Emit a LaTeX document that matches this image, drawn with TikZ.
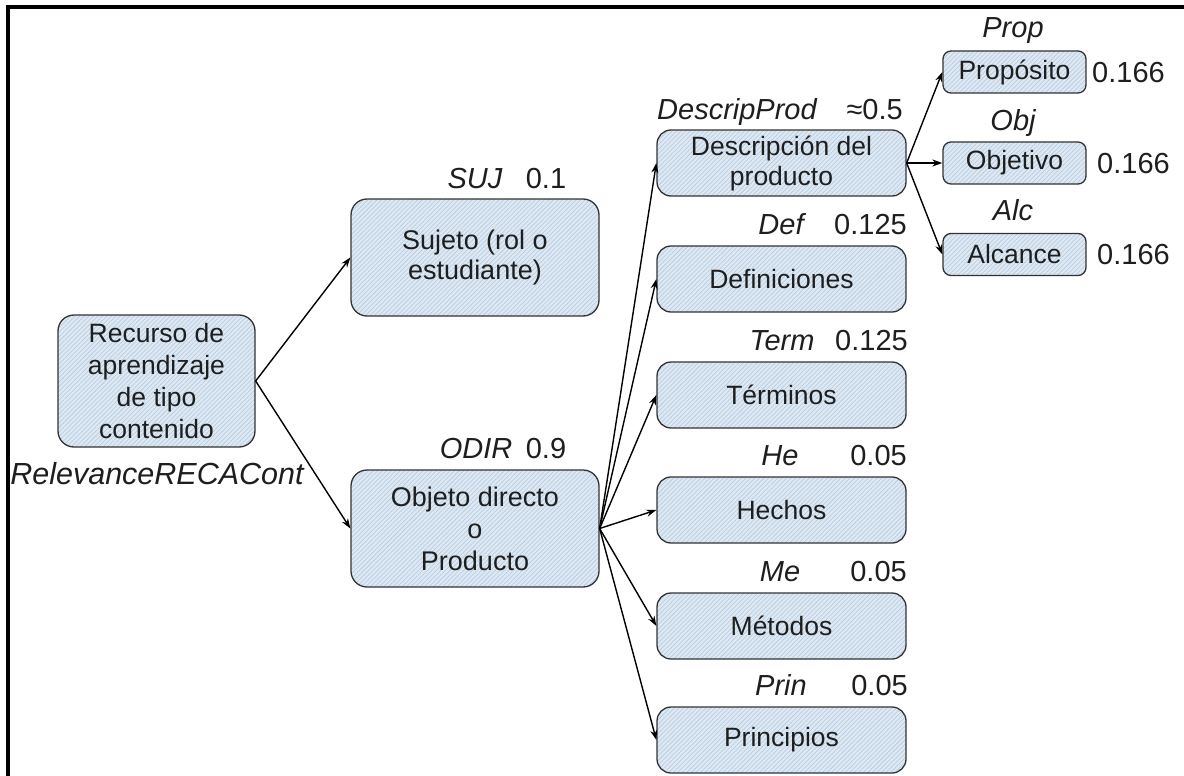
\documentclass[tikz,border=0pt]{standalone}
\usepackage{fontspec}
\setmainfont{Liberation Sans}
\usetikzlibrary{arrows.meta,patterns.meta}

\definecolor{boxfill}{HTML}{DCE8F4}
\definecolor{hatch}{HTML}{B6C8DA}
\definecolor{edge}{HTML}{333333}
\definecolor{ink}{HTML}{1E1E1E}

\tikzset{
  conceptbox/.style={draw=edge, line width=1.3pt, rounded corners=14pt,
    preaction={fill=boxfill},
    preaction={pattern={Lines[angle=45,distance=3.2pt,line width=0.55pt]}, pattern color=hatch},
    text=ink, align=center, inner sep=0pt, font=\fontsize{26.5}{31}\selectfont},
  colbox/.style={conceptbox, minimum width=249pt, minimum height=66pt},
  midbox/.style={conceptbox, minimum width=248pt, minimum height=117pt, rounded corners=16pt},
  smallbox/.style={conceptbox, rounded corners=8pt, minimum width=143pt, minimum height=42pt},
  tag/.style={font=\fontsize{29}{34}\selectfont\itshape, text=ink, inner sep=0pt, anchor=base},
  weight/.style={font=\fontsize{29}{34}\selectfont, text=ink, inner sep=0pt, anchor=base},
  link/.style={line width=1.4pt, draw=black, -{Stealth[length=10pt,width=7pt]}},
}

\begin{document}
\begin{tikzpicture}[x=1pt, y=-1pt]
  \useasboundingbox (0,0) rectangle (1184,776);

  % frame (top and left edges only)
  \draw[line width=4pt, line cap=rect] (8,776) -- (8,7) -- (1184,7);

  % root
  \node[conceptbox, minimum width=197pt, minimum height=132pt, rounded corners=16pt, font=\fontsize{26.5}{32}\selectfont]
    (root) at (156.5,381) {Recurso de\\aprendizaje\\de tipo\\contenido};
  \node[tag, font=\fontsize{30.5}{35}\selectfont\itshape] (tRoot) at (157,484) {RelevanceRECACont};

  % second level
  \node[midbox, font=\fontsize{27}{30}\selectfont] (suj) at (475,257.5) {Sujeto (rol o\\estudiante)};
  \node[tag] (tSuj) at (475,188) {SUJ};
  \node[weight] (wSuj) at (546,188) {0.1};

  \node[midbox, font=\fontsize{27}{32}\selectfont] (odir) at (475,528.5) {Objeto directo\\o\\Producto};
  \node[tag] (tOdir) at (476,458) {ODIR};
  \node[weight] (wOdir) at (546,458) {0.9};

  % third level
  \node[colbox, font=\fontsize{26.5}{30}\selectfont] (desc) at (781.5,163) {Descripción del\\producto};
  \node[tag, anchor=base west] (tDesc) at (657,119) {DescripProd};
  \node[weight, anchor=base east] (wDesc) at (903,119) {≈0.5};

  \node[colbox] (defn) at (781.5,279) {Definiciones};
  \node[tag] (tDef) at (781,234) {Def};
  \node[weight, anchor=base east] (wDef) at (907,234) {0.125};

  \node[colbox] (term) at (781.5,395) {Términos};
  \node[tag] (tTerm) at (782,350) {Term};
  \node[weight, anchor=base east] (wTerm) at (908,350) {0.125};

  \node[colbox] (hech) at (781.5,510) {Hechos};
  \node[tag] (tHech) at (780,465) {He};
  \node[weight, anchor=base east] (wHech) at (907,465) {0.05};

  \node[colbox] (meto) at (781.5,626) {Métodos};
  \node[tag] (tMeto) at (780,581) {Me};
  \node[weight, anchor=base east] (wMeto) at (907,581) {0.05};

  \node[colbox] (prin) at (781.5,740) {Principios};
  \node[tag] (tPrin) at (781,695) {Prin};
  \node[weight, anchor=base east] (wPrin) at (908,695) {0.05};

  % fourth level
  \node[smallbox] (prop) at (1014.5,72) {Propósito};
  \node[tag] (tProp) at (1013,38) {Prop};
  \node[weight, anchor=base west] (wProp) at (1092,82) {0.166};

  \node[smallbox] (obj) at (1014.5,163) {Objetivo};
  \node[tag] (tObj) at (1013,130) {Obj};
  \node[weight, anchor=base west] (wObj) at (1097,173) {0.166};

  \node[smallbox] (alc) at (1014.5,254.5) {Alcance};
  \node[tag] (tAlc) at (1013,220) {Alc};
  \node[weight, anchor=base west] (wAlc) at (1097,264) {0.166};

  % connectors
  \draw[link] (root.east) -- (suj.west);
  \draw[link] (root.east) -- (odir.west);

  \foreach \t in {desc,defn,term,hech,meto,prin}
    \draw[link] (odir.east) -- (\t.west);

  \foreach \t in {prop,obj,alc}
    \draw[link] (desc.east) -- (\t.west);
\end{tikzpicture}
\end{document}
